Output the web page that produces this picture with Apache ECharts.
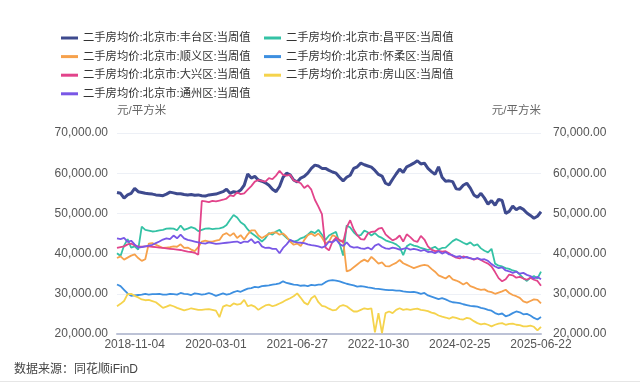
<!DOCTYPE html>
<html>
<head>
<meta charset="utf-8">
<script src="https://cdn.jsdelivr.net/npm/echarts@6/dist/echarts.min.js"></script>
<style>
html,body{margin:0;padding:0;background:#fff;}
#c{width:640px;height:383px;}
</style>
</head>
<body>
<div id="c"></div>
<script>
// Weekly series sampled every 3 weeks; tick labels every 23 samples, counted back from the last date
const stepDays = 21;
const pointCount = 121;
const samplesPerTick = 23;
const tickLabels = ['2018-11-04','2020-03-01','2021-06-27','2022-10-30','2024-02-25','2025-06-22'];
const yTicks = [20000, 30000, 40000, 50000, 60000, 70000];

const seriesNames = [
  '二手房均价:北京市:丰台区:当周值',
  '二手房均价:北京市:昌平区:当周值',
  '二手房均价:北京市:顺义区:当周值',
  '二手房均价:北京市:怀柔区:当周值',
  '二手房均价:北京市:大兴区:当周值',
  '二手房均价:北京市:房山区:当周值',
  '二手房均价:北京市:通州区:当周值'
];

const fengtai = [55200,55000,53800,54600,55000,56200,55400,55200,55000,54900,
54800,54600,54500,54400,54800,55300,55100,54900,54900,54700,
54600,54700,54500,54600,54400,54300,54600,54700,54800,55100,
55400,56000,55000,55400,55200,55800,57000,59800,58800,59200,
58300,58000,57600,57000,56000,55400,56700,59000,60000,59600,
58300,57800,58800,59200,60000,61200,62000,61800,61200,61200,
60700,60300,60000,59000,58100,59000,59500,61200,61600,62500,
62100,61800,61500,60700,59700,59300,57500,57100,58500,59800,
61000,60200,61600,62000,62500,63100,62300,62500,61200,60400,
59700,61600,59000,58000,58100,57900,56100,56000,57000,57500,
56300,54600,54000,55000,53800,52300,53200,52000,53500,53200,
50000,50500,51800,50900,51500,51000,50100,49500,48800,49300,50400];

const changping = [40100,39400,42000,43600,41500,41800,41000,46700,45900,45700,
45500,45600,45800,45900,46200,46300,46200,45800,47000,45900,
46200,46600,46300,45600,45900,46200,46300,46100,46200,46300,
46500,47100,48400,49600,49000,47800,47200,46000,45100,44500,
43800,43000,43800,45100,44700,45500,45900,44700,43900,43300,
43000,43200,43800,44100,44700,45500,45100,45900,44700,43400,
44500,45000,45400,42500,39500,47000,46500,45300,44500,44600,
45700,45300,44500,45100,44300,43900,43300,43000,42700,42300,
41600,39600,41800,42400,42000,41800,41400,41200,40900,41300,
41700,41000,41400,41500,42300,43100,43600,43200,42700,42300,
42800,42000,42300,41300,40700,40300,41200,37500,37000,36800,
36400,36200,35800,35600,34800,33900,33200,34000,34400,33800,35500];

const shunyi = [38900,39300,38500,39000,39500,39800,38900,38200,38600,42500,
42600,42200,41800,41400,41500,41600,41800,41700,42300,41400,
41500,41000,40600,41600,43000,43200,43000,43000,43200,43400,
44700,45100,44400,45100,43900,44600,43500,44800,45800,45800,
44500,43900,44400,44900,45200,45300,44700,45000,44200,43000,
42200,42500,41900,43400,44600,45000,44400,45000,44000,42500,
43000,44600,44200,43100,43300,35600,35900,36600,37300,38000,
38500,38000,39200,38400,37500,37800,36900,36800,37300,37700,
38400,37600,37200,36800,36400,36700,37000,37200,37000,36200,
35500,34600,34200,33800,34500,33600,33300,32900,32300,32800,
31900,31600,31200,31000,31100,30600,30400,30000,30300,30600,
31000,30200,29700,29400,29000,28100,27800,28200,28600,28500,27600];

const huairou = [32300,31900,31000,30100,29500,29600,29700,29800,30000,29800,
29900,29900,30000,29800,29800,30000,29900,29800,30200,30000,
29900,29700,30100,30000,29800,29900,30200,29900,29500,29800,
30100,29800,30000,30400,30700,30500,30900,31300,31400,31700,
31600,31900,32000,32100,32300,32400,32600,33100,32700,32500,
32300,32200,32000,32100,31900,32200,32100,32300,32300,32900,
33300,33400,33300,33100,32800,32500,32300,32100,31800,31900,
31800,31600,31500,31300,31200,31100,31000,30900,30900,30800,
30800,30600,30500,30400,30500,30300,30000,30200,29600,29300,
29000,28700,28900,28600,28200,27900,27800,27700,27400,27200,
27000,26900,26800,26500,26300,26000,25800,25200,24900,25100,
24400,24700,25200,25600,25400,24900,25000,24600,24000,23600,24200];

const daxing = [41400,41600,41800,42300,42500,42000,41800,41700,41800,41800,
41700,41600,41500,41400,41300,41200,41100,41000,40900,40700,
40500,40400,40200,39700,53100,53000,52800,53100,53000,53200,
53400,53700,54500,54300,55200,54800,55000,55900,56800,57900,
58300,58100,57900,58800,58500,59400,60600,59600,59400,59600,
58200,57900,57500,56300,57000,55900,53400,51700,49800,41500,
40800,43000,44000,43400,42800,46500,48300,46000,44600,43600,
43500,45000,45400,45500,46200,46400,44800,44000,43300,43700,
44500,43000,44800,44100,43200,42900,44400,43500,41800,41000,
40600,40700,40500,40600,40100,39400,39000,38800,39300,39000,
38900,38500,38800,38400,37900,37500,36800,35400,33900,33100,
33600,34800,34600,34000,34200,33800,33500,34000,33500,33200,32000];

const fangshan = [26900,27500,28200,29900,30000,29500,29100,28600,28400,28500,
28200,27900,27200,26500,26800,27200,26900,26500,26200,25900,
26100,26400,26200,26000,26000,26100,26200,26000,25800,24200,
26800,27200,26900,27600,27300,27500,28500,26900,27200,26800,
26000,26600,27100,27300,26900,27200,27600,28000,28500,28900,
29400,30100,29000,27800,27300,28900,29500,27900,27000,26800,
26300,25900,26000,26900,27200,26900,26200,25600,25600,26000,
26400,26200,26400,20400,25200,20200,25200,25600,25200,26000,
26400,26000,26200,26000,26200,26300,26000,25900,25700,25300,
25100,24600,24300,24100,23800,24200,24000,23700,23600,24000,
23800,23200,22700,22400,22600,22300,21900,22300,22600,22700,
22300,22500,22600,22300,22200,21900,21900,22100,21800,20900,21800];

const tongzhou = [43800,43600,43900,42900,43200,42300,41500,41600,41800,42000,
42200,42600,43000,43500,43800,43600,44500,43800,44700,43800,
43400,43200,43000,42800,42600,42500,42800,42600,42400,42500,
42600,42700,42800,42900,43000,42600,43000,42900,43600,42600,
43000,41800,41400,41500,41200,41200,40100,41400,42300,43400,
43000,42800,42700,42600,42300,42100,42000,41800,41500,41900,
43000,42800,43500,42400,41900,42800,41800,41500,41600,41300,
41200,41500,41000,42000,42400,41700,41300,41200,41500,41300,
41000,41200,41400,41000,41200,41000,40700,40900,40400,40500,
40100,40600,40000,40400,39800,39600,39200,39400,38900,39200,
38800,38600,38900,38500,38600,38200,37400,36800,36400,36600,
35800,35600,35200,35500,35000,35200,34700,34400,33800,34200,33600];

const seriesData = [fengtai, changping, shunyi, huairou, daxing, fangshan, tongzhou];
const colors = ['#3e4a8e','#34c2a5','#f6a14c','#3d8fe0','#e2448b','#f5d34c','#7957e6'];
const widths = [3, 1.8, 1.8, 1.8, 1.8, 1.8, 1.8];

// category dates: each sample dated back from the next tick label at 3-week steps
function fmt(d){
  const m = String(d.getUTCMonth()+1).padStart(2,'0');
  const day = String(d.getUTCDate()).padStart(2,'0');
  return d.getUTCFullYear()+'-'+m+'-'+day;
}
const anchorIdx = tickLabels.map((_, k) => pointCount - 1 - (tickLabels.length - 1 - k) * samplesPerTick);
const dates = [];
for (let i = 0; i < pointCount; i++) {
  let k = 0;
  while (anchorIdx[k] < i) k++;
  const t = Date.parse(tickLabels[k] + 'T00:00:00Z') - (anchorIdx[k] - i) * stepDays * 86400000;
  dates.push(fmt(new Date(t)));
}

const fontFam = "'Liberation Sans','Noto Sans CJK SC',sans-serif";
const numFmt = v => Number(v).toLocaleString('en-US', {minimumFractionDigits: 2, maximumFractionDigits: 2});

const chart = echarts.init(document.getElementById('c'), null, {renderer: 'canvas'});

const legendCommon = {
  orient: 'vertical',
  top: 31,
  padding: 0,
  icon: 'rect',
  itemWidth: 17,
  itemHeight: 3,
  itemGap: 4.6,
  textStyle: {fontSize: 11.3, color: '#333', lineHeight: 14, fontFamily: fontFam},
  selectedMode: false
};

const option = {
  animation: false,
  backgroundColor: '#fff',
  textStyle: {fontFamily: fontFam},
  color: colors,
  legend: [
    Object.assign({}, legendCommon, {left: 61, data: [seriesNames[0], seriesNames[2], seriesNames[4], seriesNames[6]]}),
    Object.assign({}, legendCommon, {left: 264, data: [seriesNames[1], seriesNames[3], seriesNames[5]]})
  ],
  grid: {left: 117, right: 99, top: 133, bottom: 49, containLabel: false, outerBoundsMode: 'none'},
  xAxis: {
    type: 'category',
    data: dates,
    boundaryGap: false,
    axisTick: {show: false},
    axisLine: {lineStyle: {color: '#bcc2d6', width: 2}},
    axisLabel: {
      interval: (idx) => anchorIdx.includes(idx),
      color: '#555',
      fontSize: 12,
      margin: 5
    },
    splitLine: {show: false}
  },
  yAxis: [
    {
      type: 'value', min: yTicks[0], max: yTicks[yTicks.length-1], interval: 10000,
      position: 'left',
      name: '元/平方米', nameLocation: 'end', nameGap: 16,
      nameTextStyle: {color: '#666', fontSize: 11.5, align: 'left'},
      axisLine: {show: false}, axisTick: {show: false},
      axisLabel: {formatter: numFmt, color: '#555', fontSize: 12, margin: 9},
      splitLine: {lineStyle: {color: '#edf0f6', width: 1}}
    },
    {
      type: 'value', min: yTicks[0], max: yTicks[yTicks.length-1], interval: 10000,
      position: 'right',
      name: '元/平方米', nameLocation: 'end', nameGap: 16,
      nameTextStyle: {color: '#666', fontSize: 11.5, align: 'right'},
      axisLine: {show: false}, axisTick: {show: false},
      axisLabel: {formatter: numFmt, color: '#555', fontSize: 12, margin: 12},
      splitLine: {show: false}
    }
  ],
  series: seriesNames.map((name, k) => ({
    name: name,
    type: 'line',
    yAxisIndex: 0,
    data: seriesData[k],
    showSymbol: false,
    symbol: 'none',
    smooth: false,
    lineStyle: {width: widths[k], color: colors[k]},
    itemStyle: {color: colors[k]},
    emphasis: {disabled: true}
  })),
  graphic: [
    {type: 'text', left: 14, top: 364, style: {text: '数据来源：同花顺iFinD', fill: '#444', fontSize: 12, fontFamily: fontFam}},
    {type: 'rect', left: 0, top: 381, shape: {width: 640, height: 1}, style: {fill: '#e6e6e6'}}
  ]
};
chart.setOption(option);
</script>
</body>
</html>
